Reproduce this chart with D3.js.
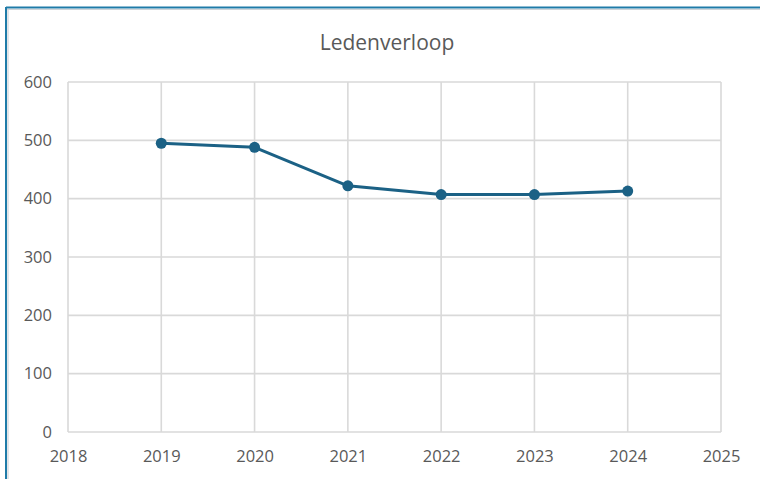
<!DOCTYPE html>
<html>
<head>
<meta charset="utf-8">
<script src="https://cdn.jsdelivr.net/npm/d3@7"></script>
<style>
  body { margin: 0; background: #fff; }
  svg { display: block; font-family: "Open Sans", "Liberation Sans", sans-serif; }
</style>
</head>
<body>
<div id="chart"></div>
<script>
// data
const years = [2019, 2020, 2021, 2022, 2023, 2024];
const members = [495, 488, 422, 407, 407, 413];
const xTicks = [2018, 2019, 2020, 2021, 2022, 2023, 2024, 2025];
const yTicks = [0, 100, 200, 300, 400, 500, 600];

const width = 760, height = 479;
const margin = { left: 68, right: 39, top: 82, bottom: 47 };

const svg = d3.select("#chart").append("svg")
  .attr("width", width)
  .attr("height", height);

// frame (selected chart border)
svg.append("line").attr("x1", 6).attr("x2", width).attr("y1", 7.5).attr("y2", 7.5)
  .attr("stroke", "#1f7ba8").attr("stroke-width", 2);
svg.append("line").attr("x1", 6).attr("x2", width).attr("y1", 9.5).attr("y2", 9.5)
  .attr("stroke", "#d0d4d8").attr("stroke-width", 1.2);
svg.append("line").attr("x1", 6).attr("x2", 6).attr("y1", 7).attr("y2", height)
  .attr("stroke", "#1f7ba8").attr("stroke-width", 2);
svg.append("line").attr("x1", 8).attr("x2", 8).attr("y1", 9).attr("y2", height)
  .attr("stroke", "#d0d4d8").attr("stroke-width", 1.2);

const x = d3.scaleLinear().domain([2018, 2025]).range([margin.left, width - margin.right]);
const y = d3.scaleLinear().domain([0, 600]).range([height - margin.bottom, margin.top]);

// title
svg.append("text")
  .attr("x", 387)
  .attr("y", 50)
  .attr("text-anchor", "middle")
  .attr("fill", "#595959")
  .attr("font-size", "21px")
  .text("Ledenverloop");

// gridlines
const grid = svg.append("g").attr("stroke", "#d9d9d9").attr("stroke-width", 1.6);
grid.selectAll(".hgrid").data(yTicks).enter().append("line")
  .attr("x1", x(2018)).attr("x2", x(2025))
  .attr("y1", d => y(d)).attr("y2", d => y(d));
grid.selectAll(".vgrid").data(xTicks).enter().append("line")
  .attr("y1", y(0)).attr("y2", y(600))
  .attr("x1", d => x(d)).attr("x2", d => x(d));

// axes labels
const yAxis = svg.append("g")
  .attr("transform", `translate(${margin.left - 16},0)`)
  .call(d3.axisLeft(y).tickValues(yTicks).tickSize(0).tickPadding(0).tickFormat(d3.format("d")));
const xAxis = svg.append("g")
  .attr("transform", `translate(0,${y(0) + 14})`)
  .call(d3.axisBottom(x).tickValues(xTicks).tickSize(0).tickPadding(4).tickFormat(d3.format("d")));

[yAxis, xAxis].forEach(a => {
  a.select(".domain").remove();
  a.selectAll("text")
    .attr("fill", "#595959")
    .attr("font-size", "16.5px")
    .attr("font-family", "\"Open Sans\", \"Liberation Sans\", sans-serif");
});

// series
const pts = years.map((yr, i) => ({ yr: yr, v: members[i] }));
const lineColor = "#1b6185";

svg.append("path")
  .datum(pts)
  .attr("fill", "none")
  .attr("stroke", lineColor)
  .attr("stroke-width", 3)
  .attr("stroke-linejoin", "round")
  .attr("d", d3.line().x(d => x(d.yr)).y(d => y(d.v)));

svg.selectAll(".dot").data(pts).enter().append("circle")
  .attr("cx", d => x(d.yr))
  .attr("cy", d => y(d.v))
  .attr("r", 5.5)
  .attr("fill", lineColor);
</script>
</body>
</html>
